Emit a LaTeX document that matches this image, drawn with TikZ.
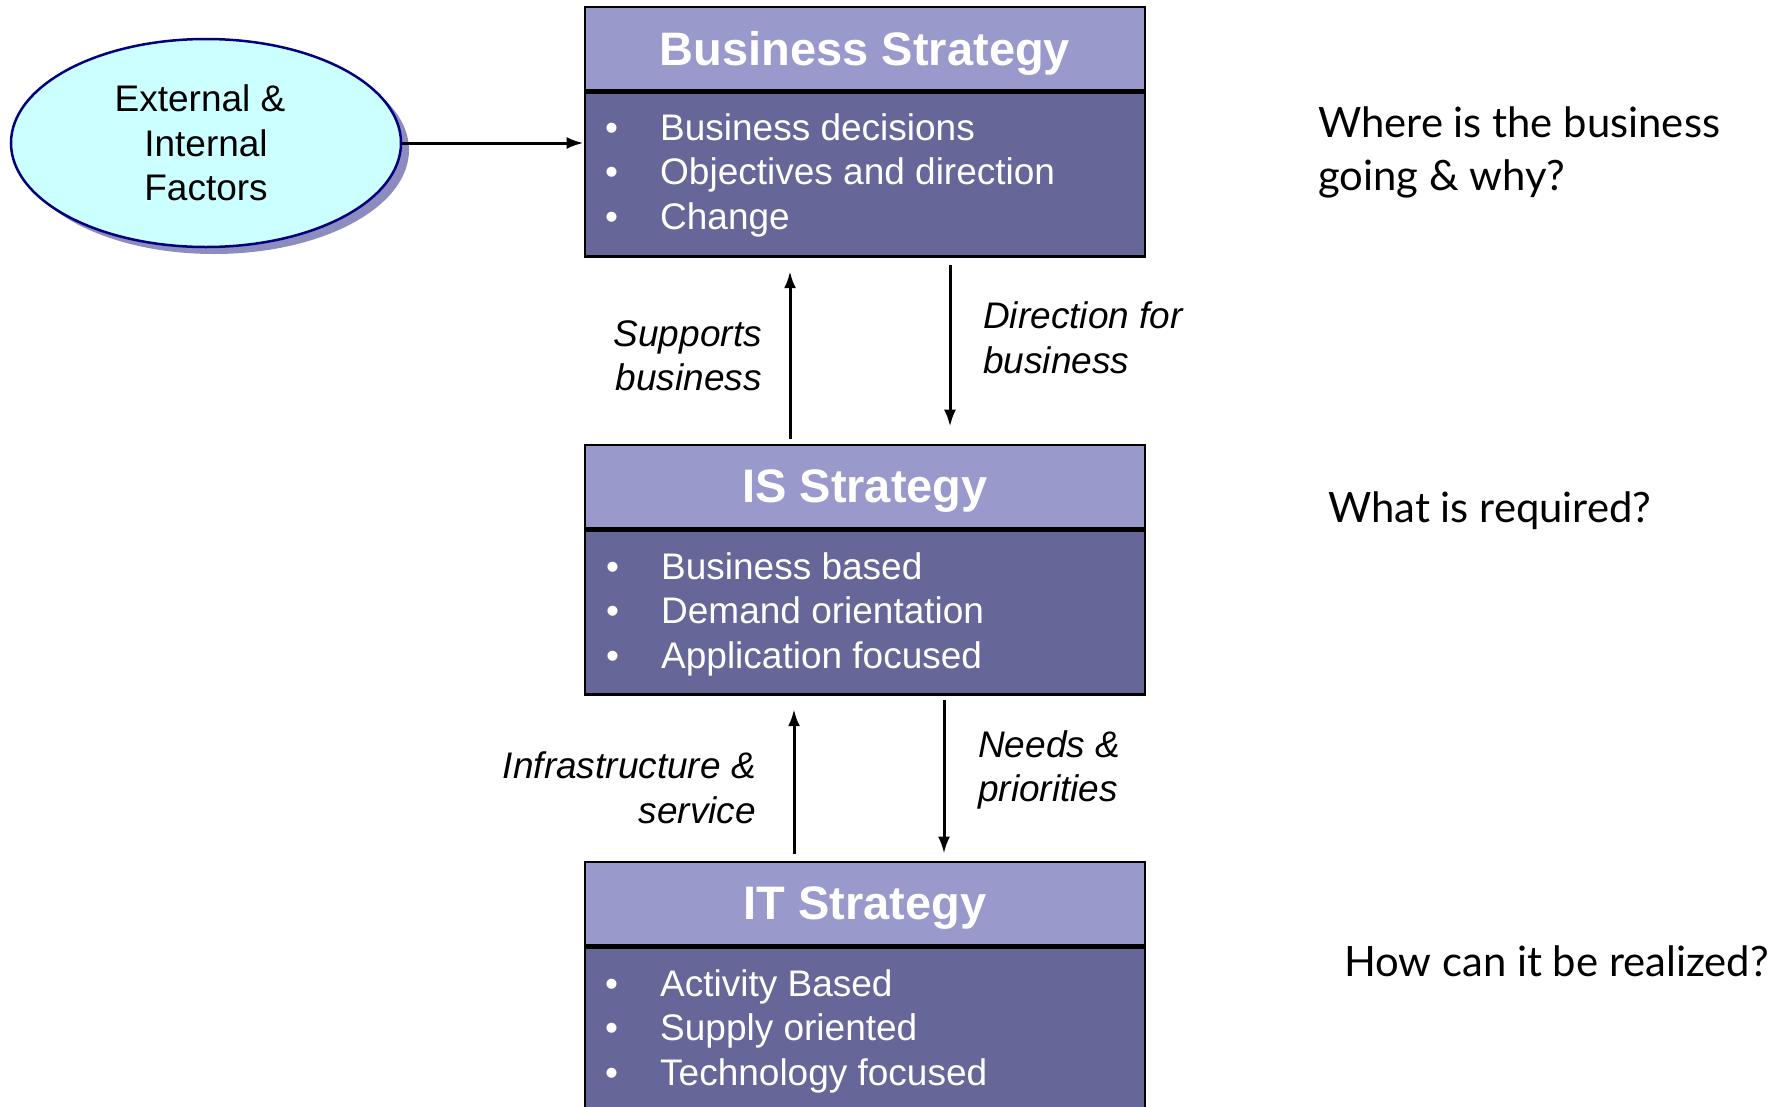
\documentclass[tikz,border=0pt]{standalone}
\usepackage{fontspec}
\setmainfont{Liberation Sans}
\newfontfamily\askfont{Lato}
\usetikzlibrary{arrows.meta,shapes.geometric,shadows}

\definecolor{headblue}{RGB}{153,153,204}
\definecolor{bodyblue}{RGB}{102,102,153}
\definecolor{factcyan}{RGB}{204,255,255}
\definecolor{factnavy}{RGB}{0,0,128}
\definecolor{shadowblue}{RGB}{140,140,190}

\begin{document}
\begin{tikzpicture}[x=1pt,y=-1pt,
    head/.style={draw=black,line width=2.8pt,fill=headblue,minimum width=560pt,minimum height=83pt,
        inner sep=0pt,text=white,text depth=0pt,font=\fontsize{47}{56}\selectfont\bfseries},
    body/.style={draw=black,line width=2.8pt,fill=bodyblue,minimum width=560pt,minimum height=164pt,inner sep=0pt},
    items/.style={anchor=west,align=left,text=white,inner sep=0pt,font=\fontsize{37}{44.5}\selectfont},
    arr/.style={-{Latex[length=17pt,width=12pt]},line width=3pt},
    lbl/.style={inner sep=0pt,font=\fontsize{37}{44.5}\selectfont\itshape},
    ask/.style={anchor=west,align=left,inner sep=0pt,font=\askfont\fontsize{41.8}{53}\selectfont}
]
\useasboundingbox (0,0) rectangle (1788,1106);
\newcommand{\bul}{\makebox[55pt][l]{\textbullet}}

% Factors
\node[ellipse,draw=factnavy,line width=2.5pt,fill=factcyan,minimum width=390pt,minimum height=208pt,
    align=center,font=\fontsize{37}{44.5}\selectfont,
    drop shadow={shadow xshift=8pt,shadow yshift=-7pt,fill=shadowblue,opacity=1}]
    (factors) at (206,143) {External \&\hspace*{12pt}\\Internal\hspace*{24pt}\\Factors};

% Strategy boxes
\node[head] (bsHead) at (865,48.5) {Business Strategy};
\node[body,anchor=north] (bsBody) at (bsHead.south) {};
\node[items] (bsItems) at (605,175) {\bul Business decisions\\\bul Objectives and direction\\\bul Change};

\node[head] (isHead) at (865,486.5) {IS Strategy};
\node[body,anchor=north] (isBody) at (isHead.south) {};
\node[items] (isItems) at (606,614) {\bul Business based\\\bul Demand orientation\\\bul Application focused};

\node[head] (itHead) at (865,903.5) {IT Strategy};
\node[body,anchor=north] (itBody) at (itHead.south) {};
\node[items] (itItems) at (605,1031) {\bul Activity Based\\\bul Supply oriented\\\bul Technology focused};

% Connection
\draw[arr] (factors.east) -- (bsBody.west |- factors.east);
\draw[arr,shorten <=5pt,shorten >=13pt] (isHead.north -| 790,0) -- (bsBody.south -| 790,0);
\draw[arr,shorten <=7pt,shorten >=17pt] (bsBody.south -| 950,0) -- (isHead.north -| 950,0);
\draw[arr,shorten <=7pt,shorten >=13pt] (itHead.north -| 794,0) -- (isBody.south -| 794,0);
\draw[arr,shorten <=4pt,shorten >=7pt] (isBody.south -| 944,0) -- (itHead.north -| 944,0);

% Labels
\node[lbl,align=right,anchor=east] (supLbl) at (762,356) {Supports\\business};
\node[lbl,align=left,anchor=west] (dirLbl) at (983,338) {Direction for\\business};
\node[lbl,align=right,anchor=east] (infLbl) at (756,788) {Infrastructure \&\\service};
\node[lbl,align=left,anchor=west] (needLbl) at (978,770) {Needs \&\\priorities};

% Questions
\node[ask] (bsAsk) at (1318,152) {Where is the business\\going \& why?};
\node[ask] (isAsk) at (1328,511) {What is required?};
\node[ask] (itAsk) at (1344,961) {How can it be realized?};
\end{tikzpicture}
\end{document}
